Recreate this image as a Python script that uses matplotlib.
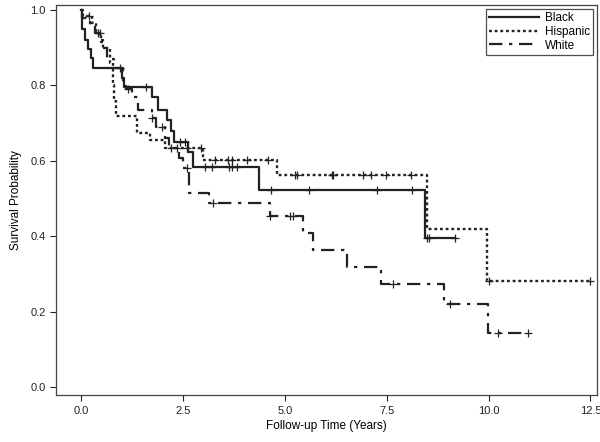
import matplotlib
matplotlib.use("Agg")
import matplotlib.pyplot as plt
import numpy as np

plt.rcParams['font.family'] = ['Liberation Sans', 'DejaVu Sans']

# step times (years) and survival after each step
black_t = [0, 0.02, 0.10, 0.18, 0.25, 0.30, 1.00, 1.06, 1.75, 1.90, 2.10, 2.22, 2.28, 2.63, 2.74, 4.37, 8.44]
black_s = [1.0, 0.95, 0.92, 0.897, 0.872, 0.845, 0.82, 0.795, 0.77, 0.735, 0.708, 0.68, 0.65, 0.624, 0.584, 0.524, 0.396]
black_end = 9.18
black_cens = [0.95, 1.6, 2.43, 2.55, 3.04, 3.22, 3.63, 3.71, 3.83, 4.66, 5.6, 7.26, 8.11, 8.49, 8.54, 9.18]

hisp_t = [0, 0.05, 0.28, 0.38, 0.50, 0.55, 0.72, 0.78, 0.82, 0.85, 1.37, 1.69, 2.05, 2.99, 4.81, 8.50, 9.96]
hisp_s = [1.0, 0.985, 0.965, 0.94, 0.915, 0.90, 0.86, 0.80, 0.76, 0.72, 0.675, 0.655, 0.634, 0.602, 0.562, 0.419, 0.281]
hisp_end = 12.5
hisp_cens = [0.2, 0.47, 2.6, 2.95, 3.29, 3.61, 3.70, 4.07, 4.59, 5.25, 5.30, 6.16, 6.18, 6.92, 7.12, 7.48, 8.10, 10.0, 12.5]

white_t = [0, 0.02, 0.22, 0.35, 0.45, 0.55, 0.65, 0.80, 1.02, 1.10, 1.25, 1.40, 1.75, 1.85, 2.05, 2.15, 2.40, 2.50, 2.65,
           3.15, 4.64, 5.45, 5.70, 6.53, 7.36, 8.90, 9.99]
white_s = [1.0, 0.98, 0.96, 0.94, 0.92, 0.90, 0.87, 0.845, 0.81, 0.79, 0.77, 0.735, 0.715, 0.69, 0.66, 0.635, 0.607, 0.58, 0.515,
           0.489, 0.453, 0.41, 0.363, 0.32, 0.273, 0.22, 0.145]
white_end = 10.97
white_cens = [0.42, 1.15, 1.75, 2.0, 2.2, 2.35, 2.6, 3.25, 4.64, 5.13, 5.20, 7.66, 9.06, 10.23, 10.97]


def surv_at(t, times, vals):
    idx = np.searchsorted(times, t, side='right') - 1
    return np.array(vals)[idx]


fig = plt.figure(figsize=(6, 4.42), dpi=100)
ax = fig.add_axes([0.0933, 0.106, 0.9017, 0.8827])

col = '#222222'
groups = [
    ('Black', black_t, black_s, black_end, black_cens, '-', 1.6),
    ('Hispanic', hisp_t, hisp_s, hisp_end, hisp_cens, (0, (1.2, 1.2)), 1.7),
    ('White', white_t, white_s, white_end, white_cens, (0, (6, 3, 1.5, 3)), 1.6),
]
for name, tt, ss, tend, cens, ls, lw in groups:
    xs = list(tt) + [tend]
    ys = list(ss) + [ss[-1]]
    ax.step(xs, ys, where='post', color=col, linestyle=ls, linewidth=lw, label=name)
    cy = surv_at(np.array(cens), tt, ss)
    ax.plot(cens, cy, linestyle='none', marker='+', markersize=6, markeredgewidth=0.9, color=col)

ax.set_xlim(-0.613, 12.66)
ax.set_ylim(-0.021, 1.0133)
ax.set_xticks([0, 2.5, 5.0, 7.5, 10.0, 12.5])
ax.set_xticklabels(['0.0', '2.5', '5.0', '7.5', '10.0', '12.5'])
ax.set_yticks([0, 0.2, 0.4, 0.6, 0.8, 1.0])
ax.set_yticklabels(['0.0', '0.2', '0.4', '0.6', '0.8', '1.0'])
ax.tick_params(labelsize=8, colors='#222222', length=4, width=0.8)
for sp in ax.spines.values():
    sp.set_color('#444444')
    sp.set_linewidth(0.9)

ax.set_xlabel('Follow-up Time (Years)', fontsize=8.5, labelpad=3)
ax.set_ylabel('Survival Probability', fontsize=8.5, labelpad=6)

leg = ax.legend(loc='upper right', fontsize=8.5, frameon=True, fancybox=False,
                edgecolor='#222222', borderaxespad=0.3, handlelength=4.2,
                handletextpad=0.5, labelspacing=0.15, borderpad=0.3)
leg.get_frame().set_linewidth(0.9)

fig.savefig('out.png', dpi=100)
